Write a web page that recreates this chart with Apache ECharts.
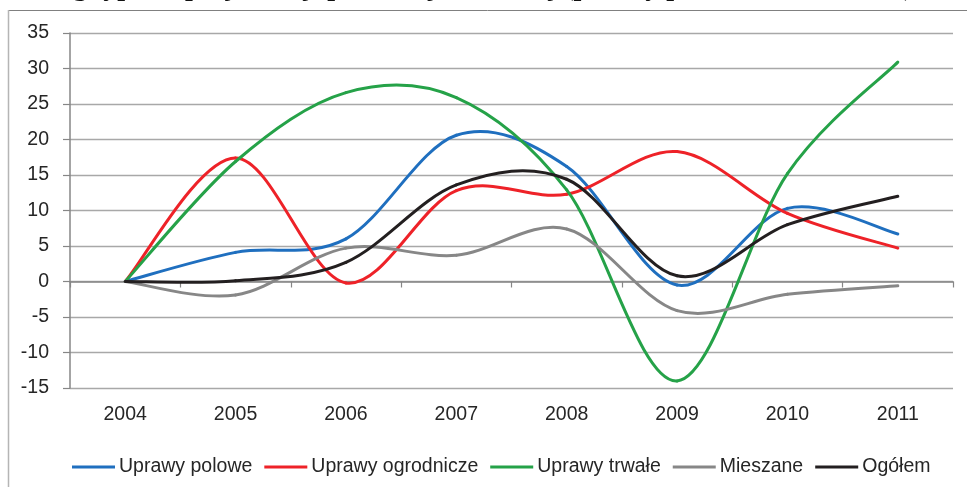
<!DOCTYPE html>
<html>
<head>
<meta charset="utf-8">
<script src="https://cdn.jsdelivr.net/npm/echarts@6/dist/echarts.min.js"></script>
<style>
html,body{margin:0;padding:0;background:#fff;}
#chart{width:967px;height:487px;}
</style>
</head>
<body>
<div id="chart"></div>
<script>
const years = ['2004', '2005', '2006', '2007', '2008', '2009', '2010', '2011'];
const uprawyPolowe = [0, 4.1, 6.0, 20.6, 16.2, -0.5, 10.3, 6.7];
const uprawyOgrodnicze = [0, 17.4, -0.2, 12.8, 12.3, 18.3, 9.6, 4.7];
const uprawyTrwale = [0, 16.9, 26.6, 25.9, 12.9, -14.0, 15.2, 30.9];
const mieszane = [0, -1.9, 4.7, 3.7, 7.4, -4.1, -1.8, -0.6];
const ogolem = [0, 0.1, 2.7, 13.6, 14.4, 0.8, 8.0, 12.0];
const seriesNames = ['Uprawy polowe', 'Uprawy ogrodnicze', 'Uprawy trwałe', 'Mieszane', 'Ogółem'];
const seriesColors = ['#1f6fbf', '#ee2228', '#25a248', '#878787', '#231f20'];
const titleText = 'wg typów specjalizacji produkcji roślinnej (punkty procentowe, 2004=0)';

const seriesData = [uprawyPolowe, uprawyOgrodnicze, uprawyTrwale, mieszane, ogolem];
const font = 'Liberation Sans, Arial, sans-serif';

// Smooth (Catmull-Rom style, like Excel) segment between point i and i+1, positioned by the axes
function makeRender(arr, color) {
  return function (params, api) {
    const n = arr.length;
    const i = params.dataIndex;
    if (i >= n - 1) return null;
    const ia = Math.max(i - 1, 0), id = Math.min(i + 2, n - 1);
    const p0 = api.coord([ia, arr[ia]]);
    const p1 = api.coord([i, arr[i]]);
    const p2 = api.coord([i + 1, arr[i + 1]]);
    const p3 = api.coord([id, arr[id]]);
    return {
      type: 'bezierCurve',
      shape: {
        x1: p1[0], y1: p1[1], x2: p2[0], y2: p2[1],
        cpx1: p1[0] + (p2[0] - p0[0]) / 6, cpy1: p1[1] + (p2[1] - p0[1]) / 6,
        cpx2: p2[0] - (p3[0] - p1[0]) / 6, cpy2: p2[1] - (p3[1] - p1[1]) / 6
      },
      style: {stroke: color, lineWidth: 3, fill: null, lineCap: 'round'}
    };
  };
}

const chart = echarts.init(document.getElementById('chart'), null, {renderer: 'canvas'});
chart.setOption({
  animation: false,
  backgroundColor: '#ffffff',
  grid: {left: 70, right: 14, top: 33, bottom: 99, containLabel: false},
  graphic: [
    {type: 'text', x: 483, y: -26, silent: true,
     style: {text: titleText, align: 'center', verticalAlign: 'top',
             font: 'bold 28px "Liberation Serif", "Times New Roman", serif', fill: '#111'}},
    {type: 'line', silent: true, shape: {x1: 8, y1: 10.5, x2: 967, y2: 10.5}, style: {stroke: '#808080', lineWidth: 1}},
    {type: 'line', silent: true, shape: {x1: 8.5, y1: 10, x2: 8.5, y2: 487}, style: {stroke: '#b5b5b5', lineWidth: 1.5}}
  ],
  legend: {
    left: 67, top: 452,
    icon: 'rect', itemWidth: 43, itemHeight: 3, itemGap: 12,
    textStyle: {fontFamily: font, fontSize: 19.5, color: '#262626', padding: [0, 0, 0, -1]},
    data: seriesNames
  },
  xAxis: [
    {type: 'category', data: years, boundaryGap: true,
     axisLine: {onZero: true, lineStyle: {color: '#868686', width: 1.5}},
     axisTick: {show: true, length: 6, lineStyle: {color: '#868686', width: 1.2}},
     axisLabel: {show: false}, splitLine: {show: false}},
    {type: 'category', data: years, boundaryGap: true, position: 'bottom',
     axisLine: {show: false}, axisTick: {show: false},
     axisLabel: {show: true, margin: 17, fontFamily: font, fontSize: 19.5, color: '#262626'},
     splitLine: {show: false}}
  ],
  yAxis: {
    type: 'value', min: -15, max: 35, interval: 5,
    axisLine: {show: true, lineStyle: {color: '#868686', width: 1.5}},
    axisTick: {show: true, length: 7, lineStyle: {color: '#868686', width: 1.2}},
    axisLabel: {margin: 21, fontFamily: font, fontSize: 19.5, color: '#262626'},
    splitLine: {show: true, lineStyle: {color: '#a8a8a8', width: 1.3}}
  },
  series: seriesNames.map((n, i) => ({
    name: n, type: 'custom', xAxisIndex: 0, yAxisIndex: 0,
    data: seriesData[i].map((v, j) => [j, v]),
    encode: {x: 0, y: 1},
    renderItem: makeRender(seriesData[i], seriesColors[i]),
    itemStyle: {color: seriesColors[i]},
    clip: false
  }))
});
</script>
</body>
</html>
